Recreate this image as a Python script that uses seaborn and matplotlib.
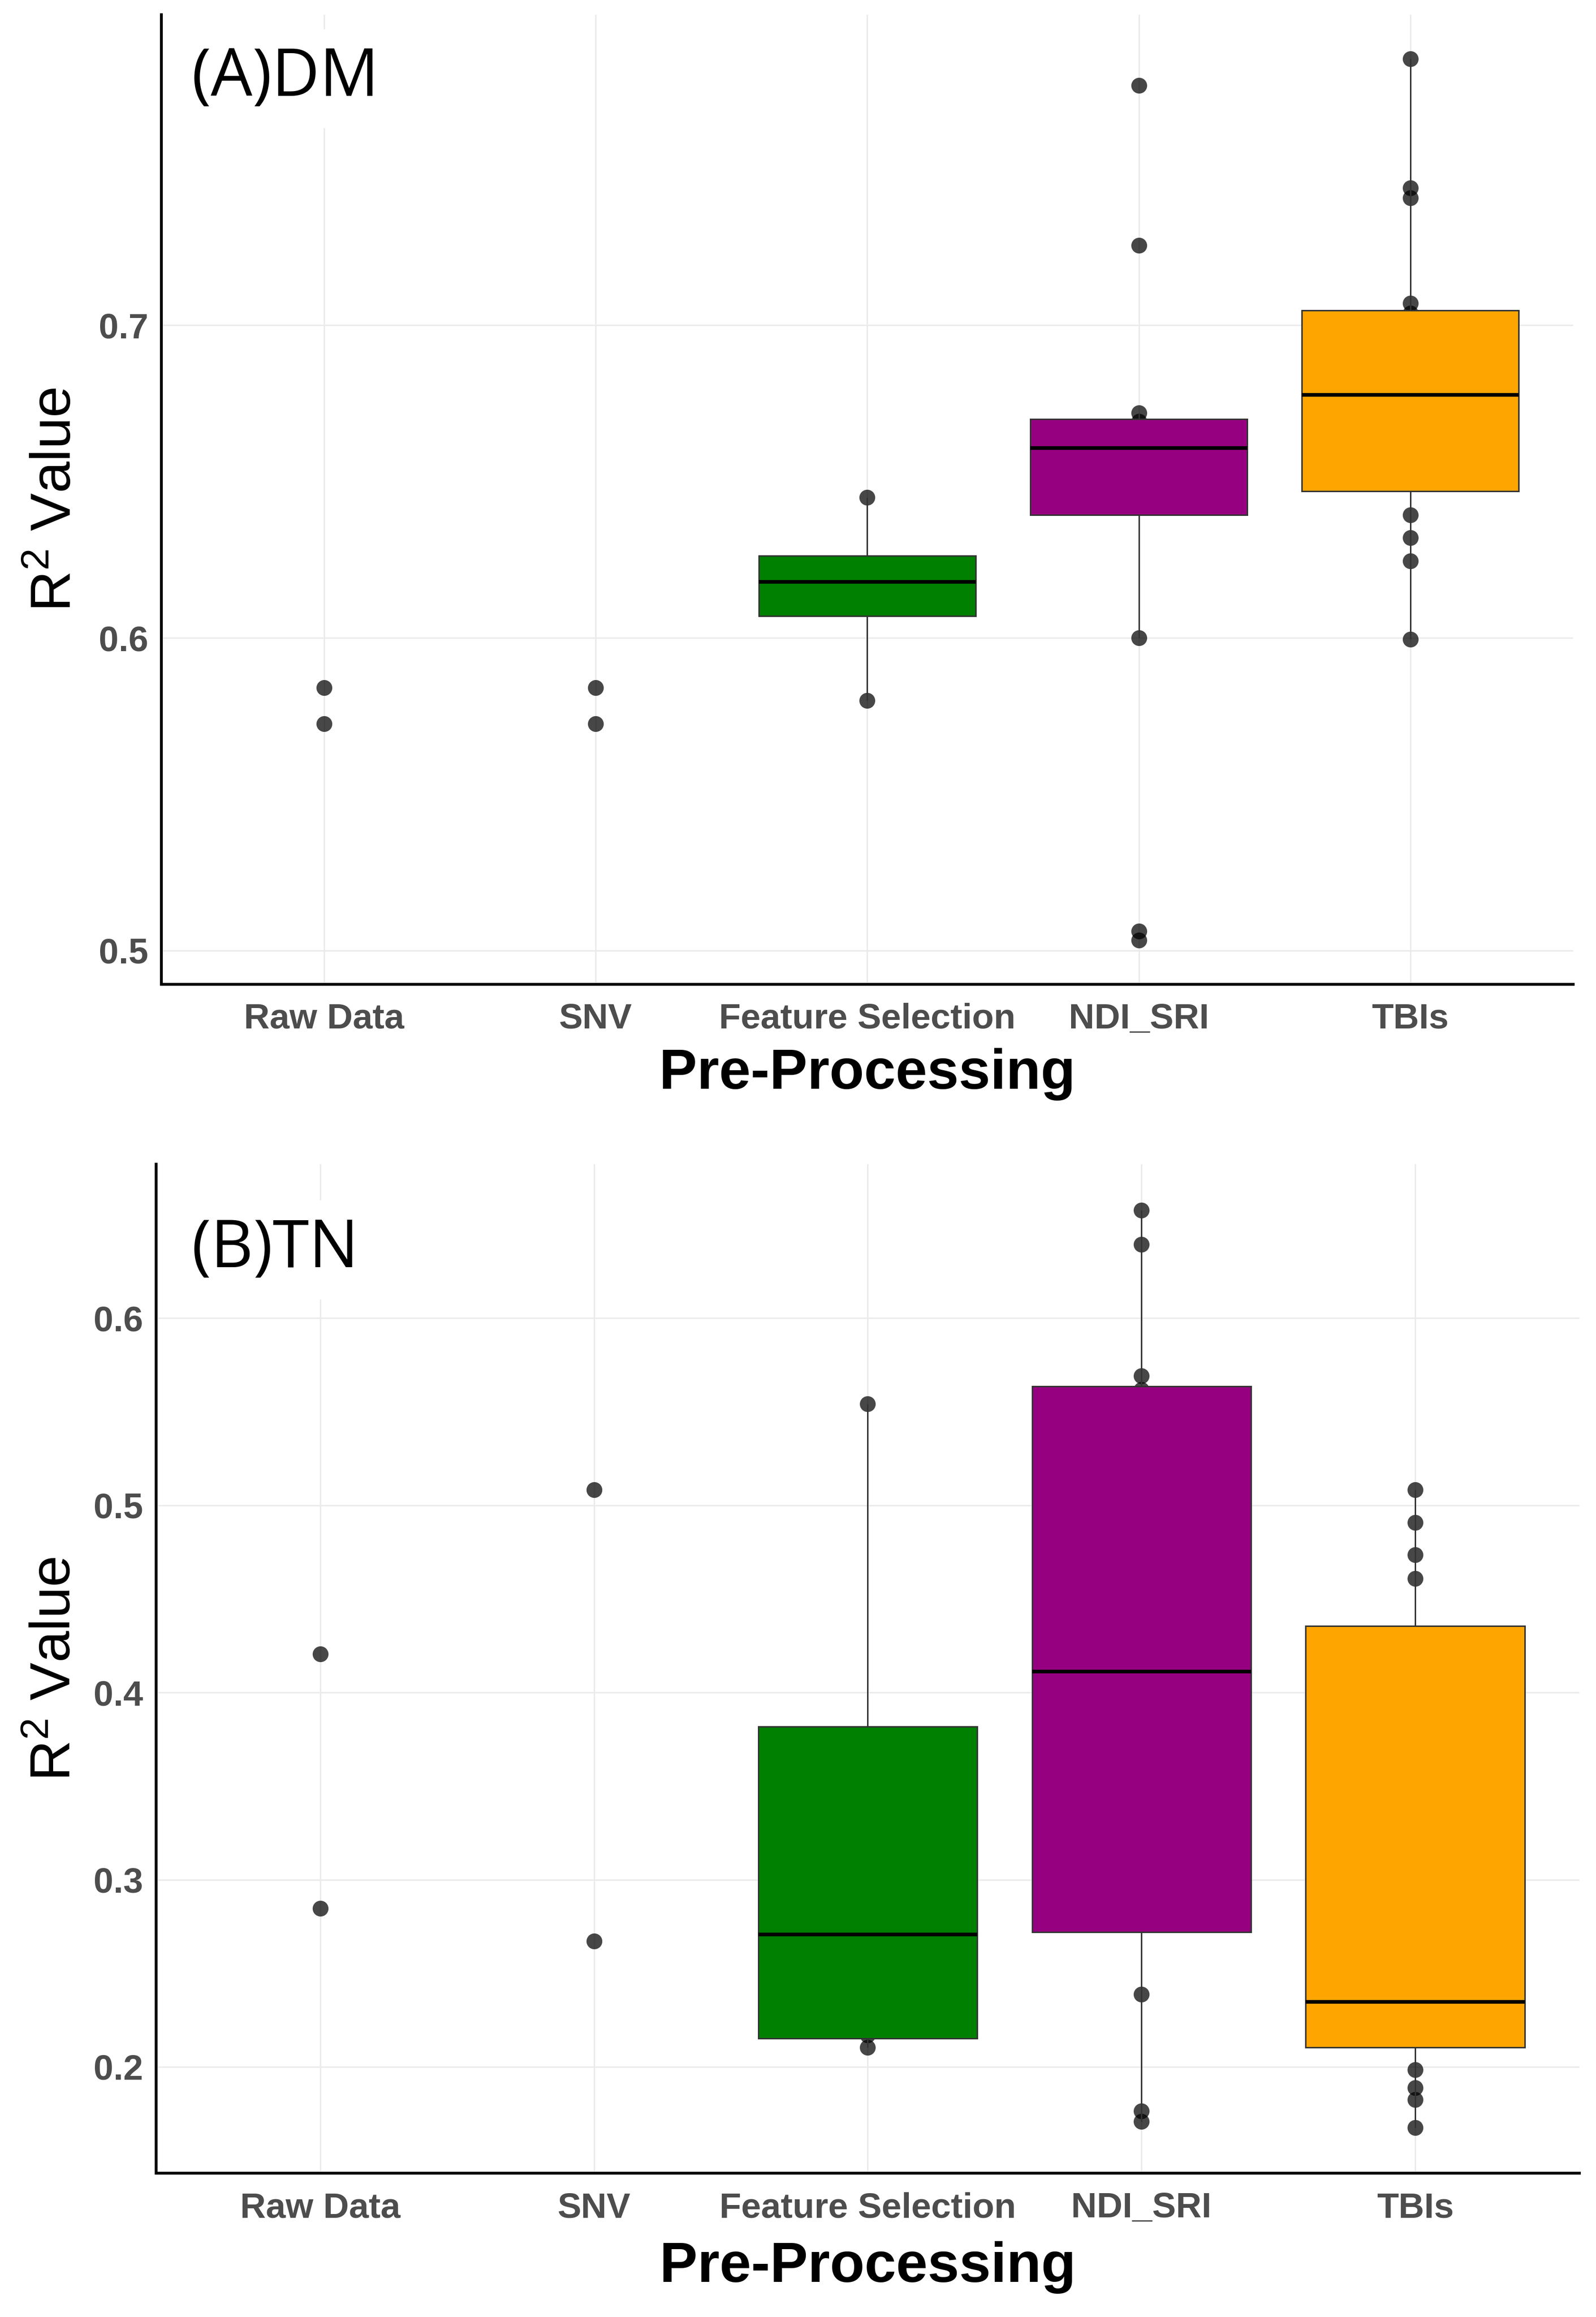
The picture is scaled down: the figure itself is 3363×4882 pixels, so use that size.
import matplotlib
matplotlib.use('Agg')
import matplotlib.pyplot as plt
import seaborn as sns
import pandas as pd

categories = ['Raw Data', 'SNV', 'Feature Selection', 'NDI_SRI', 'TBIs']
box_groups = ['Feature Selection', 'NDI_SRI', 'TBIs']
box_colors = ['#008000', '#960080', '#FFA500']

# (A) DM - R2 values per pre-processing method
dm_raw = [0.5840, 0.5725]
dm_snv = [0.5840, 0.5725]
dm_fs = [0.580, 0.616, 0.620, 0.645]
dm_ndi = [0.5033, 0.5062, 0.600, 0.6524, 0.655, 0.659, 0.6624, 0.666,
          0.6693, 0.672, 0.7256, 0.7768]
dm_tbi = [0.5995, 0.6246, 0.632, 0.6393, 0.6494, 0.656, 0.665, 0.675,
          0.6804, 0.688, 0.697, 0.7039, 0.7071, 0.7408, 0.744, 0.7853]

# (B) TN - R2 values per pre-processing method
tn_raw = [0.4206, 0.2846]
tn_snv = [0.5083, 0.2672]
tn_fs = [0.2103, 0.2169, 0.3243, 0.5542]
tn_ndi = [0.1708, 0.1763, 0.2387, 0.2830, 0.330, 0.390, 0.4322, 0.500,
          0.5617, 0.5692, 0.6395, 0.6577]
tn_tbi = [0.1676, 0.1826, 0.1889, 0.1984, 0.2143, 0.222, 0.228, 0.232,
          0.2376, 0.300, 0.370, 0.4272, 0.4609, 0.4735, 0.4909, 0.5083]

dm_ticks = [0.5, 0.6, 0.7]
tn_ticks = [0.2, 0.3, 0.4, 0.5, 0.6]

sns.set_style('white')
plt.rcParams['font.family'] = ['Liberation Sans', 'DejaVu Sans']
plt.rcParams['mathtext.fontset'] = 'custom'
plt.rcParams['mathtext.rm'] = 'Liberation Sans'


def make_frame(groups):
    rows = []
    for name, vals in zip(categories, groups):
        for v in vals:
            rows.append({'group': name, 'r2': v})
    return pd.DataFrame(rows)


def draw_panel(ax, df, ticks, tag, tag_xy, ylab_x, xlab_y):
    ax.set_axisbelow(True)
    sns.stripplot(data=df, x='group', y='r2', order=categories, jitter=False,
                  color='black', alpha=0.72, size=24, linewidth=0,
                  zorder=2, ax=ax)
    box_df = df[df['group'].isin(box_groups)]
    sns.boxplot(data=box_df, x='group', y='r2', order=categories,
                hue='group', hue_order=box_groups,
                palette=dict(zip(box_groups, box_colors)),
                saturation=1, width=0.8, showfliers=False, showcaps=False,
                dodge=False, legend=False, linecolor='#333333', linewidth=2.2,
                boxprops={'zorder': 3, 'edgecolor': '#333333'},
                whiskerprops={'zorder': 2.5, 'color': '#333333'},
                medianprops={'zorder': 3.5, 'color': 'black', 'linewidth': 5.5},
                ax=ax)
    # seaborn switches the categorical grid off, so turn both back on
    ax.grid(True, axis='both', color='#EBEBEB', linewidth=2.2)
    lo, hi = df['r2'].min(), df['r2'].max()
    pad = 0.05 * (hi - lo)
    ax.set_ylim(lo - pad, hi + pad)
    ax.set_xlim(-0.6, 4.6)
    ax.set_yticks(ticks)
    ax.set_yticklabels([f'{t:.1f}' for t in ticks])
    ax.tick_params(axis='both', length=0, labelsize=54, labelcolor='#4D4D4D')
    ax.tick_params(axis='x', pad=28)
    ax.tick_params(axis='y', pad=20)
    for lab in ax.get_xticklabels() + ax.get_yticklabels():
        lab.set_fontweight('bold')
    for side in ['top', 'right']:
        ax.spines[side].set_visible(False)
    for side in ['left', 'bottom']:
        ax.spines[side].set_color('black')
        ax.spines[side].set_linewidth(4.3)
    ax.set_xlabel('Pre-Processing', fontsize=86, fontweight='bold', color='black')
    ax.xaxis.set_label_coords(0.5, xlab_y)
    ax.xaxis.label.set_va('center')
    ax.set_ylabel(r'R$^\mathregular{2}$ Value', fontsize=86, color='black')
    ax.yaxis.set_label_coords(ylab_x, 0.5)
    ax.yaxis.label.set_va('center')
    ax.text(tag_xy[0], tag_xy[1], tag, transform=ax.transAxes, fontsize=100,
            family=['Open Sans', 'DejaVu Sans'], color='black', va='baseline',
            ha='left', zorder=5,
            bbox=dict(facecolor='white', edgecolor='none', pad=25))


fig = plt.figure(figsize=(33.63, 48.82), dpi=100)
ax_a = fig.add_axes([0.1011, 0.5752, 0.8846, 0.4185])
ax_b = fig.add_axes([0.0978, 0.0620, 0.8918, 0.4355])

dm_df = make_frame([dm_raw, dm_snv, dm_fs, dm_ndi, dm_tbi])
tn_df = make_frame([tn_raw, tn_snv, tn_fs, tn_ndi, tn_tbi])

draw_panel(ax_a, dm_df, dm_ticks, '(A)DM', (0.0215, 0.916), -0.0746, -0.093)
draw_panel(ax_b, tn_df, tn_ticks, '(B)TN', (0.025, 0.898), -0.0704, -0.093)

fig.savefig('out.png', dpi=100, facecolor='white')
